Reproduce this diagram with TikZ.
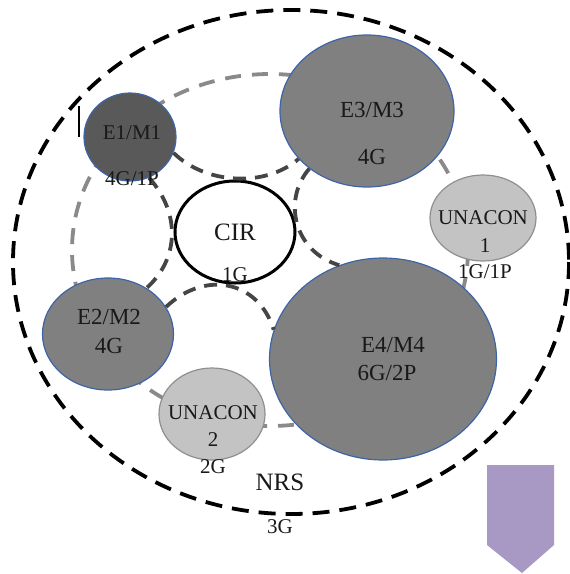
\documentclass[tikz,border=0pt]{standalone}
\usepackage{fontspec}
\setmainfont{Liberation Serif}
\usetikzlibrary{shapes.geometric}
\definecolor{blueedge}{HTML}{3E64A8}
\definecolor{darkfill}{HTML}{595959}
\definecolor{midfill}{HTML}{808080}
\definecolor{lightfill}{HTML}{C3C3C3}
\definecolor{lightedge}{HTML}{8F8F8F}
\definecolor{ringgray}{HTML}{8A8A8A}
\definecolor{ringdark}{HTML}{454545}
\definecolor{arrowc}{HTML}{A898C4}
\begin{document}
\begin{tikzpicture}[x=1pt,y=-1pt,
  blob/.style={ellipse, draw=blueedge, line width=1.2pt, inner sep=0pt},
  ublob/.style={ellipse, draw=lightedge, fill=lightfill, line width=1.2pt, inner sep=0pt},
  lbl/.style={font=\fontsize{21}{24}\selectfont, text=black!90, inner sep=0pt},
  mlbl/.style={font=\fontsize{23}{26}\selectfont, text=black!90, inner sep=0pt},
  biglbl/.style={font=\fontsize{25}{28}\selectfont, text=black!90, inner sep=0pt},
  outerring/.style={draw=black, line width=3.8pt, dash pattern=on 17pt off 10pt},
  grayring/.style={draw=ringgray, line width=3.8pt, dash pattern=on 16pt off 11pt},
  darkring/.style={draw=ringdark, line width=3.8pt, dash pattern=on 13pt off 9pt}]
\useasboundingbox (0,0) rectangle (570,574);
% outer and gray rings
\draw[outerring] (291,262) ellipse [x radius=278, y radius=252];
\draw[grayring] (270,250) ellipse [x radius=198, y radius=176];
% nodes
\node[blob, fill=darkfill, minimum width=92pt, minimum height=88pt] (e1) at (130,137) {};
\node[blob, fill=midfill, minimum width=174pt, minimum height=152pt] (e3) at (367,111) {};
\node[ublob, minimum width=106pt, minimum height=86pt] (u1) at (483,218) {};
\node[blob, fill=midfill, minimum width=131pt, minimum height=112pt] (e2) at (108,334) {};
\node[ublob, minimum width=106pt, minimum height=92pt] (u2) at (212,414) {};
\node[blob, fill=midfill, minimum width=227pt, minimum height=202pt] (e4) at (383,359) {};
\node[ellipse, draw=black, line width=3pt, fill=white, minimum width=120pt, minimum height=102pt, inner sep=0pt] (cir) at (235,232) {};
% dark ring around CIR
\draw[darkring] (e1.-20) .. controls (205,184) and (265,188) .. (e3.-145);
\draw[darkring] (e3.-135) .. controls (282,200) and (294,252) .. (e4.115);
\draw[darkring] (e2.25) .. controls (205,270) and (258,280) .. (e4.165);
\draw[darkring] (e1.-65) .. controls (180,212) and (180,258) .. (e2.50);
% stray mark
\draw[black, line width=2pt] (79,106) -- (79,137);
% labels
\node[lbl] (le1a) at (132,133) {E1/M1};
\node[lbl] (le1b) at (132,179) {4G/1P};
\node[mlbl] (le3a) at (372,110) {E3/M3};
\node[mlbl] (le3b) at (372,157) {4G};
\node[biglbl] (lcira) at (235,232) {CIR};
\node[lbl] (lcirb) at (235,275) {1G};
\node[lbl] (lu1a) at (483,218) {UNACON};
\node[lbl] (lu1b) at (485,246) {1};
\node[lbl] (lu1c) at (485,272) {1G/1P};
\node[mlbl] (le2a) at (109,317) {E2/M2};
\node[mlbl] (le2b) at (109,346) {4G};
\node[lbl] (lu2a) at (213,413) {UNACON};
\node[lbl] (lu2b) at (213,440) {2};
\node[lbl] (lu2c) at (213,467) {2G};
\node[mlbl] (le4a) at (393,345) {E4/M4};
\node[mlbl] (le4b) at (387,373) {6G/2P};
\node[biglbl] (lnrs) at (280,482) {NRS};
\node[lbl] (l3g) at (280,527) {3G};
% arrow
\fill[arrowc] (487,465) -- (554,465) -- (554,545) -- (522,573) -- (487,545) -- cycle;
\end{tikzpicture}
\end{document}
